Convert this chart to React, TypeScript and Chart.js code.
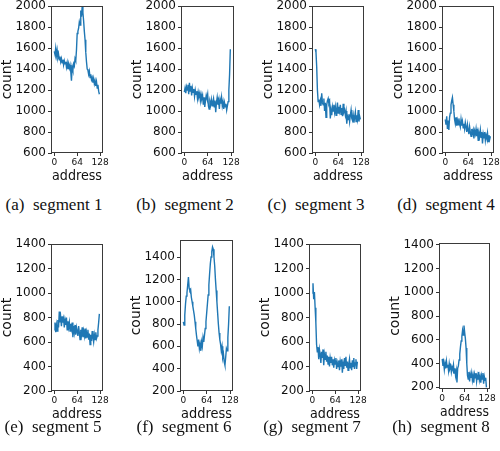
import React, { useEffect, useRef } from "react";
import { Chart, registerables } from "chart.js";
Chart.register(...registerables);

// ---------- data ----------
const ADDRESS = Array.from({ length: 64 }, (_, i) => i * 2);
const X_TICKS = [0, 64, 128];
const Y_TICKS_TOP = [600, 800, 1000, 1200, 1400, 1600, 1800, 2000];
const Y_TICKS_BOTTOM = [200, 400, 600, 800, 1000, 1200, 1400];

const SEG1 = [1570, 1540, 1600, 1530, 1580, 1510, 1540, 1490, 1520, 1470, 1500, 1460, 1490, 1440, 1480, 1450,
  1470, 1420, 1460, 1400, 1450, 1410, 1440, 1380, 1290, 1420, 1390, 1450, 1430, 1500, 1480, 1580,
  1740, 1760, 1790, 1850, 1820, 1960, 1900, 2000, 1940, 1860, 1760, 1680, 1560, 1470, 1400, 1390,
  1350, 1380, 1320, 1350, 1300, 1320, 1270, 1310, 1260, 1290, 1240, 1280, 1220, 1250, 1190, 1160];
const SEG2 = [1180, 1220, 1170, 1230, 1200, 1250, 1160, 1270, 1190, 1240, 1150, 1220, 1180, 1210, 1140, 1200,
  1160, 1190, 1120, 1180, 1140, 1170, 1100, 1160, 1120, 1150, 1060, 1130, 1040, 1100, 1150, 1120,
  1160, 1050, 1020, 1090, 1060, 1110, 1050, 1090, 1120, 1040, 1100, 990, 1080, 1130, 1060, 1100,
  1020, 1110, 1070, 1130, 1050, 1090, 1020, 1080, 1040, 1070, 1010, 1050, 1090, 1200, 1350, 1590];
const SEG3 = [1590, 1560, 1420, 1200, 1090, 1110, 1060, 1100, 1050, 1170, 1080, 1060, 1120, 1000, 1080, 940,
  1060, 1100, 1120, 1070, 1090, 930, 1010, 960, 1040, 1000, 1060, 990, 1040, 960, 1020, 1080,
  980, 1040, 1000, 1060, 970, 1030, 950, 1070, 990, 1010, 960, 1000, 880, 950, 920, 970,
  900, 960, 1010, 930, 910, 960, 890, 940, 990, 900, 960, 920, 1010, 900, 950, 920];
const SEG4 = [920, 870, 950, 830, 910, 820, 940, 980, 1060, 1100, 1130, 1060, 1000, 920, 880, 940,
  860, 910, 870, 930, 880, 850, 920, 860, 900, 840, 880, 830, 890, 850, 800, 870,
  820, 780, 850, 800, 760, 830, 790, 820, 740, 810, 780, 830, 760, 800, 720, 790,
  760, 820, 750, 800, 690, 780, 740, 800, 720, 770, 740, 790, 710, 770, 730, 760];
const SEG5 = [700, 760, 680, 740, 690, 780, 720, 850, 760, 800, 730, 810, 760, 790, 720, 780,
  740, 800, 700, 770, 720, 760, 690, 750, 710, 760, 640, 730, 680, 740, 660, 720,
  690, 650, 730, 680, 620, 700, 660, 720, 640, 690, 650, 710, 630, 680, 640, 700,
  620, 670, 580, 660, 610, 690, 640, 600, 660, 620, 680, 630, 650, 700, 760, 830];
const SEG6 = [820, 790, 880, 980, 1050, 1080, 1150, 1220, 1120, 1100, 1110, 1040, 1000, 960, 920, 880,
  820, 760, 700, 650, 600, 660, 580, 620, 560, 640, 600, 680, 640, 700, 760, 820,
  900, 980, 1060, 1150, 1250, 1340, 1400, 1450, 1490, 1470, 1400, 1320, 1200, 1100, 1000, 900,
  800, 720, 660, 620, 560, 600, 500, 530, 460, 430, 500, 580, 560, 680, 800, 960];
const SEG7 = [1000, 1080, 950, 1010, 880, 760, 580, 520, 560, 460, 540, 500, 430, 520, 470, 540,
  410, 500, 460, 520, 440, 490, 420, 480, 400, 470, 430, 480, 410, 460, 390, 450,
  420, 470, 380, 430, 400, 450, 370, 440, 400, 460, 350, 420, 380, 470, 410, 480,
  390, 440, 370, 420, 460, 390, 430, 370, 450, 400, 470, 380, 430, 460, 380, 440];
const SEG8 = [440, 380, 410, 350, 400, 360, 420, 370, 390, 340, 400, 360, 380, 330, 370, 350,
  390, 320, 360, 300, 340, 240, 360, 380, 430, 480, 540, 590, 630, 680, 640, 720,
  660, 610, 530, 400, 300, 270, 330, 250, 310, 280, 320, 260, 300, 240, 310, 280,
  320, 250, 300, 270, 330, 260, 290, 240, 300, 270, 320, 230, 290, 260, 280, 200];

const LETTERS = ["(a)", "(b)", "(c)", "(d)", "(e)", "(f)", "(g)", "(h)"];
const NAMES = ["segment 1", "segment 2", "segment 3", "segment 4", "segment 5", "segment 6", "segment 7", "segment 8"];

// ---------- layout ----------
const Y_AXIS_W = 52;
const X_AXIS_H = 30;
const PAD_T = 8;
const PAD_R = 10;

type PanelCfg = {
  values: number[];
  yTicks: number[];
  ymin: number;
  ymax: number;
  L: number; T: number; W: number; H: number;
  cx: number; cy: number;
};

const PANELS: PanelCfg[] = [
  { values: SEG1, yTicks: Y_TICKS_TOP, ymin: 600, ymax: 2000, L: 52, T: 5, W: 50, H: 148, cx: 54, cy: 205 },
  { values: SEG2, yTicks: Y_TICKS_TOP, ymin: 600, ymax: 2000, L: 182, T: 5, W: 51, H: 148, cx: 185, cy: 205 },
  { values: SEG3, yTicks: Y_TICKS_TOP, ymin: 600, ymax: 2000, L: 313, T: 5, W: 50, H: 148, cx: 316, cy: 205 },
  { values: SEG4, yTicks: Y_TICKS_TOP, ymin: 600, ymax: 2000, L: 443, T: 5, W: 50, H: 148, cx: 446, cy: 205 },
  { values: SEG5, yTicks: Y_TICKS_BOTTOM, ymin: 200, ymax: 1400, L: 52, T: 243, W: 50, H: 148, cx: 53, cy: 427 },
  { values: SEG6, yTicks: Y_TICKS_BOTTOM, ymin: 200, ymax: 1551, L: 181, T: 239, W: 51, H: 152, cx: 184, cy: 427 },
  { values: SEG7, yTicks: Y_TICKS_BOTTOM, ymin: 200, ymax: 1400, L: 310, T: 243, W: 50, H: 148, cx: 312, cy: 427 },
  { values: SEG8, yTicks: Y_TICKS_BOTTOM, ymin: 186, ymax: 1413, L: 440, T: 242, W: 49, H: 147, cx: 441, cy: 427 },
];

const frame = {
  id: "frame",
  afterDraw(chart: any) {
    const { ctx, chartArea: a } = chart;
    ctx.save();
    ctx.strokeStyle = "#3a3a3a";
    ctx.lineWidth = 1;
    ctx.strokeRect(Math.round(a.left) - 0.5, Math.round(a.top) + 0.5, Math.round(a.right - a.left) + 1, Math.round(a.bottom - a.top) - 1);
    ctx.restore();
  },
};

const FONT = "'DejaVu Sans', sans-serif";

function Panel({ cfg }: { cfg: PanelCfg }) {
  const ref = useRef<HTMLCanvasElement | null>(null);
  useEffect(() => {
    if (!ref.current) return;
    const chart = new Chart(ref.current, {
      type: "line",
      data: {
        datasets: [
          {
            data: cfg.values.map((v, i) => ({ x: ADDRESS[i], y: v })),
            borderColor: "#1f77b4",
            borderWidth: 1.4,
            pointRadius: 0,
            fill: false,
            tension: 0,
          },
        ],
      },
      options: {
        responsive: false,
        animation: false,
        devicePixelRatio: 1,
        layout: { padding: { top: PAD_T, right: PAD_R, left: 0, bottom: 0 } },
        plugins: { legend: { display: false }, tooltip: { enabled: false } },
        scales: {
          x: {
            type: "linear",
            min: -6.35,
            max: 133.35,
            afterBuildTicks: (s: any) => {
              s.ticks = X_TICKS.map((v) => ({ value: v }));
            },
            afterFit: (s: any) => {
              s.height = X_AXIS_H;
            },
            ticks: {
              font: { family: FONT, size: 9 },
              color: "#111",
              padding: 1,
              autoSkip: false,
              maxRotation: 0,
              callback: (v: any) => String(v),
            },
            grid: { drawOnChartArea: false, drawTicks: true, tickLength: 3, color: "#333" },
            border: { display: false },
            title: {
              display: true,
              text: "address",
              font: { family: FONT, size: 14, lineHeight: 1 },
              color: "#111",
              padding: { top: 0, bottom: 0 },
            },
          },
          y: {
            type: "linear",
            min: cfg.ymin,
            max: cfg.ymax,
            afterBuildTicks: (s: any) => {
              s.ticks = cfg.yTicks.map((v) => ({ value: v }));
            },
            afterFit: (s: any) => {
              s.width = Y_AXIS_W;
            },
            ticks: {
              font: { family: FONT, size: 12 },
              color: "#111",
              padding: 2,
              autoSkip: false,
              callback: (v: any) => String(v),
            },
            grid: { drawOnChartArea: false, drawTicks: true, tickLength: 4, color: "#333" },
            border: { display: false },
            title: {
              display: true,
              text: "count",
              font: { family: FONT, size: 14, lineHeight: 1 },
              color: "#111",
              padding: { top: 0, bottom: 0 },
            },
          },
        },
      },
      plugins: [frame],
    } as any);
    return () => chart.destroy();
  }, [cfg]);

  const w = Y_AXIS_W + cfg.W + PAD_R;
  const h = PAD_T + cfg.H + X_AXIS_H;
  return (
    <canvas
      ref={ref}
      width={w}
      height={h}
      style={{ position: "absolute", left: cfg.L - Y_AXIS_W, top: cfg.T - PAD_T, width: w, height: h, display: "block" }}
    />
  );
}

export default function App() {
  return (
    <div style={{ position: "absolute", left: 0, top: 0, width: 500, height: 451, overflow: "hidden", background: "#fff" }}>
      {PANELS.map((p, i) => (
        <Panel key={i} cfg={p} />
      ))}
      {PANELS.map((p, i) => (
        <div
          key={"c" + i}
          style={{
            position: "absolute",
            left: p.cx - 70,
            top: p.cy - 11,
            width: 140,
            height: 22,
            lineHeight: "22px",
            textAlign: "center",
            fontFamily: "'Liberation Serif', 'Times New Roman', serif",
            fontSize: 17,
            color: "#111",
            whiteSpace: "pre",
          }}
        >
          {LETTERS[i] + "\u2002" + NAMES[i]}
        </div>
      ))}
    </div>
  );
}
